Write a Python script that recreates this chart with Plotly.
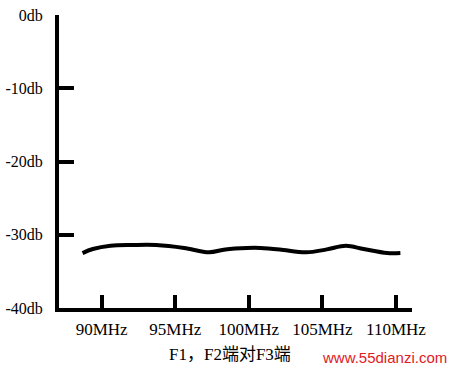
import plotly.graph_objects as go

freq_mhz = [88.7, 89.4, 90.6, 92.1, 93.7, 95.6, 97.3, 98.4, 99.9, 100.8, 102.1, 103.9, 105.3, 106.6, 107.8, 109.4, 110.3]
level_db = [-32.5, -31.95, -31.5, -31.4, -31.4, -31.8, -32.4, -32.0, -31.8, -31.8, -32.0, -32.4, -32.0, -31.5, -31.95, -32.5, -32.5]

x_tick_vals = [90, 95, 100, 105, 110]
x_tick_text = ["90MHz", "95MHz", "100MHz", "105MHz", "110MHz"]
y_tick_vals = [0, -10, -20, -30, -40]
y_tick_text = ["0db", "-10db", "-20db", "-30db", "-40db"]
caption = "F1，F2端对F3端"
watermark = "www.55dianzi.com"

serif = "Liberation Serif, Times New Roman, Noto Sans CJK SC, serif"

fig = go.Figure()
fig.add_trace(go.Scatter(
    x=freq_mhz, y=level_db, mode="lines",
    line=dict(color="black", width=4, shape="spline", smoothing=1.0),
    showlegend=False, hoverinfo="skip",
))

fig.update_layout(
    width=454, height=371,
    margin=dict(l=59, r=42, t=15, b=63),
    paper_bgcolor="white", plot_bgcolor="white",
    font=dict(family=serif, size=16, color="black"),
    xaxis=dict(
        range=[87.1, 111.09], showgrid=False, zeroline=False, automargin=False,
        showline=True, linecolor="black", linewidth=4,
        tickmode="array", tickvals=x_tick_vals, ticktext=x_tick_text,
        ticks="inside", ticklen=13, tickwidth=4, tickcolor="black",
        ticklabelstandoff=3,
        tickfont=dict(family=serif, size=17, color="black"),
    ),
    yaxis=dict(
        range=[-40, 0], showgrid=False, zeroline=False, automargin=False,
        showline=True, linecolor="black", linewidth=4,
        tickmode="array", tickvals=y_tick_vals, ticktext=y_tick_text,
        ticks="inside", ticklen=15, tickwidth=4, tickcolor="black",
        ticklabelstandoff=9,
        tickfont=dict(family=serif, size=16, color="black"),
    ),
    annotations=[
        dict(text=caption, xref="paper", yref="paper", x=0.485, y=-0.16,
             xanchor="center", yanchor="middle", showarrow=False,
             font=dict(family=serif, size=17, color="black")),
        dict(text=watermark, xref="paper", yref="paper", x=1.105, y=-0.168,
             xanchor="right", yanchor="middle", showarrow=False,
             font=dict(family="Liberation Sans, Arial, sans-serif", size=15, color="#e0201f")),
    ],
)

fig.write_html("out.html")
